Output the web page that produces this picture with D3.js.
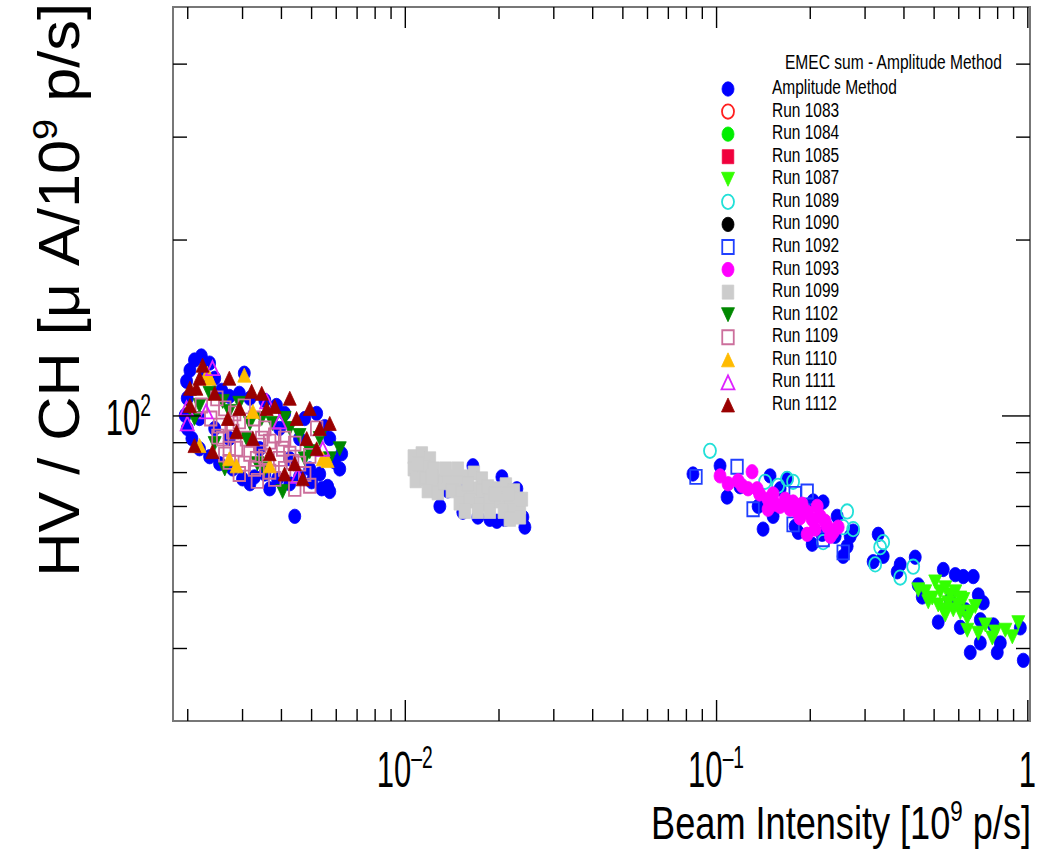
<!DOCTYPE html>
<html>
<head>
<meta charset="utf-8">
<script src="https://cdn.jsdelivr.net/npm/d3@7"></script>
<style>
    body{margin:0;background:#fff;}
    svg text{font-family:"Liberation Sans",Arial,Helvetica,sans-serif;fill:#000;}
</style>
</head>
<body>
<script>
// axis ranges and ticks
const xDomain = [0.0018, 1.02];
const yDomain = [30, 500];
const xMajor = [0.01, 0.1, 1];
const xMinor = [0.002, 0.003, 0.004, 0.005, 0.006, 0.007, 0.008, 0.009,
                0.02, 0.03, 0.04, 0.05, 0.06, 0.07, 0.08, 0.09,
                0.2, 0.3, 0.4, 0.5, 0.6, 0.7, 0.8, 0.9];
const yMajor = [100];
const yMinor = [40, 50, 60, 70, 80, 90, 200, 300, 400];

// [beam intensity (1e9 p/s), HV current per channel]
const ampMethod = [
    [0.00199,114.4],[0.00204,119.5],[0.00211,124.4],[0.00222,126.4],[0.00236,122.9],[0.00227,116.7],[0.00245,115.8],
    [0.00200,107.0],[0.00197,100.0],[0.00200,95.0],[0.00207,91.3],[0.00219,87.7],[0.00236,85.0],[0.00254,82.7],
    [0.00280,81.0],[0.00301,77.9],[0.00329,78.5],[0.00355,79.4],[0.00390,77.9],[0.00427,76.4],[0.00459,78.5],
    [0.00502,77.0],[0.00541,74.9],[0.00574,74.1],[0.00595,83.3],[0.00574,91.3],[0.00553,95.7],[0.00521,100.8],
    [0.00477,98.8],[0.00411,100.8],[0.00387,104.0],[0.00355,106.1],[0.00318,107.0],[0.00294,109.1],[0.00273,107.8],
    [0.00258,110.4],[0.00305,118.1],[0.00443,67.2],[0.00618,81.0],[0.00219,98.8],[0.00245,95.0],[0.00273,91.3],
    [0.00342,87.7],[0.00427,84.3],[0.00495,81.0],[0.00368,74.9],[0.00318,76.4],[0.00533,79.4],[0.00459,91.3],
    [0.00396,95.0],[0.00627,86.0],[0.00565,75.6],
    [0.01296,69.9],[0.01536,68.3],[0.01717,67.0],[0.01876,66.4],[0.01976,65.9],[0.02097,66.4],[0.02395,67.0],
    [0.02431,64.4],[0.01374,74.3],[0.01655,82.0],[0.02051,78.5],[0.02291,74.9],[0.01204,79.4],[0.01502,76.4],
    [0.01808,73.4],[0.02175,70.5],
    [0.0843,79.4],[0.1030,82.0],[0.1085,72.5],[0.1194,75.5],[0.1491,78.8],[0.1691,77.9],[0.2051,71.4],[0.2208,71.1],
    [0.1365,69.9],[0.1525,67.2],[0.1416,63.9],[0.1795,64.6],[0.1836,63.1],[0.2036,60.2],[0.2192,62.6],[0.2413,62.1],
    [0.2637,59.7],[0.2561,57.4],[0.2697,62.1],[0.2449,67.2],[0.2757,63.4],[0.1606,74.9],
    [0.3318,62.6],[0.3443,57.4],[0.3197,56.2],[0.3905,55.6],[0.3819,54.0],[0.4364,57.2],[0.4461,51.3],[0.5370,54.5],
    [0.5869,53.4],[0.6227,53.0],[0.6705,53.0],[0.4597,48.9],[0.5174,44.3],[0.6091,43.4],[0.6957,49.3],[0.7220,47.8],
    [0.7062,44.7],[0.7777,43.8],[0.8188,40.8],[0.8007,39.3],[0.6557,39.3],[0.7062,40.8],[0.9495,43.3],[0.9707,38.1],
    [0.565,48.4],[0.632,46.5]
];
const run1083 = [];
const run1084 = [];
const run1085 = [];
const run1087 = [
    [0.4461,50.3],[0.4806,48.0],[0.5061,51.9],[0.5252,49.9],[0.5450,50.7],[0.5869,49.9],[0.5572,47.8],[0.5783,46.5],
    [0.6091,46.0],[0.6227,48.4],[0.6414,45.0],[0.6805,47.1],[0.6957,42.4],[0.7720,41.6],[0.7892,42.6],[0.8951,41.8],
    [0.9357,44.2],[0.6414,42.9],[0.5370,46.5],[0.4699,49.9],[0.4949,48.7],[0.565,49.3],[0.600,47.4],[0.6557,46.1],
    [0.7328,43.8],[0.850,42.9],[0.5174,47.4],[0.6091,48.7],[0.545,45.6]
];
const run1089 = [
    [0.0956,87.0],[0.1437,77.0],[0.1691,77.9],[0.1768,77.0],[0.1582,75.8],[0.2637,68.5],[0.2757,63.9],[0.2561,64.4],
    [0.2208,60.7],[0.3443,60.7],[0.3367,59.5],[0.3245,55.6],[0.3905,52.8],[0.4299,55.1]
];
const run1090 = [];
const run1092 = [
    [0.0862,78.5],[0.1168,81.7],[0.1315,69.1],[0.1795,73.4],[0.1962,74.1],[0.1768,65.1],[0.2208,61.4],[0.2561,58.3],
    [0.2051,68.5]
];
const run1093 = [
    [0.1030,78.8],[0.1177,77.3],[0.1305,80.1],[0.1267,74.9],[0.1355,74.9],[0.1469,71.9],[0.1525,73.4],[0.1606,69.9],
    [0.1768,71.1],[0.1822,68.5],[0.1962,68.3],[0.2113,69.9],[0.2160,67.2],[0.2275,64.6],[0.2377,63.1],[0.1962,62.6],
    [0.1469,69.1],[0.1093,76.4],[0.1213,75.8],[0.1380,73.4],[0.1548,70.5],[0.1667,71.9],[0.1730,69.1],[0.1890,70.5],
    [0.2036,66.4],[0.2241,65.9],[0.2468,64.4],[0.2082,63.9],[0.2330,62.1],[0.1860,66.8]
];
const run1099 = [
    [0.01069,85.0],[0.01134,86.0],[0.01204,84.3],[0.01069,81.0],[0.01151,81.7],[0.01240,81.0],[0.01085,77.3],
    [0.01168,77.9],[0.01258,77.3],[0.01186,74.3],[0.01277,73.7],[0.01335,76.7],[0.01374,78.5],[0.01459,77.0],
    [0.01571,78.5],[0.01667,79.7],[0.01768,77.9],[0.01416,74.3],[0.01525,73.7],[0.01642,74.9],[0.01768,74.3],
    [0.01502,70.8],[0.01618,71.4],[0.01743,70.5],[0.01876,71.9],[0.01849,75.5],[0.01717,68.5],[0.01876,68.5],
    [0.01991,74.9],[0.02112,76.1],[0.02241,74.3],[0.02021,71.4],[0.02175,71.9],[0.02308,71.9],[0.02081,68.5],
    [0.02241,68.5],[0.02343,69.7],[0.02175,66.4],[0.02343,67.0],[0.01101,82.7],[0.01221,78.5],[0.01354,81.0],
    [0.01480,81.0],[0.01594,76.4],[0.01948,73.4],[0.02144,73.4],[0.01559,68.5],[0.02378,71.9]
];
const run1102 = [
    [0.00236,109.1],[0.00219,104.0],[0.00260,105.7],[0.00347,98.8],[0.00376,96.9],[0.00459,92.4],[0.00618,87.7],
    [0.00405,74.1],[0.00245,89.5],[0.00310,91.3],[0.00273,101.6],[0.00495,86.7],[0.00427,95.0],[0.00336,82.7],
    [0.00211,98.8],[0.00294,104.9],[0.00411,98.8],[0.00533,91.3],[0.00574,84.3],[0.00355,81.0],[0.00264,81.0],
    [0.00477,84.3],[0.00318,96.9]
];
const run1109 = [
    [0.00222,104.0],[0.00249,107.0],[0.00254,96.1],[0.00280,93.8],[0.00260,91.3],[0.00288,87.7],[0.00310,91.3],
    [0.00342,88.8],[0.00368,90.2],[0.00405,87.7],[0.00334,84.3],[0.00368,80.1],[0.00436,83.3],[0.00495,85.3],
    [0.00521,95.0],[0.00495,75.8],[0.00273,83.3],[0.00336,77.3],[0.00396,84.3],[0.00294,97.7],[0.00238,98.8],
    [0.00305,82.7],[0.00264,85.7],[0.00264,102.8],[0.00284,100.8],[0.00305,103.6],[0.00329,98.8],[0.00355,95.0],
    [0.00382,92.4],[0.00411,91.3],[0.00443,89.5],[0.00273,87.7],[0.00318,86.0],[0.00355,85.0],[0.00411,81.0],
    [0.00459,82.7],[0.00294,79.4],[0.00329,81.0],[0.00382,77.9],[0.00443,74.9],[0.00251,92.0],[0.00278,96.9],
    [0.00347,91.3],[0.00427,86.0],[0.00477,79.4]
];
const run1110 = [
    [0.00232,118.1],[0.00305,117.2],[0.00236,115.8],[0.00325,101.6],[0.00545,84.3],[0.00565,83.7],[0.00219,88.8],
    [0.00368,82.0],[0.00273,84.3],[0.00288,82.0]
];
const run1111 = [
    [0.00200,96.9],[0.00199,102.8],[0.00241,120.5],[0.00360,105.7],[0.00396,97.7],[0.00545,87.7],[0.00453,78.8],
    [0.00230,101.6]
];
const run1112 = [
    [0.00224,121.9],[0.00204,111.3],[0.00214,111.3],[0.00211,88.8],[0.00322,110.0],[0.00360,102.8],[0.00382,103.6],
    [0.00449,98.8],[0.00484,91.3],[0.00411,79.4],[0.00470,77.9],[0.00521,87.7],[0.00241,86.7],[0.00204,104.0],
    [0.00325,91.3],[0.00288,93.8],[0.00219,115.8],[0.00270,98.8],[0.00533,95.0],[0.00294,102.8],[0.00347,109.1],
    [0.00427,107.0],[0.00495,102.8],[0.00574,96.9],[0.00245,109.1],[0.00273,115.8],[0.00368,86.0],[0.00443,82.7]
];

const seriesLabels = ['Amplitude Method','Run 1083','Run 1084','Run 1085','Run 1087','Run 1089','Run 1090',
    'Run 1092','Run 1093','Run 1099','Run 1102','Run 1109','Run 1110','Run 1111','Run 1112'];
const seriesData = [ampMethod, run1083, run1084, run1085, run1087, run1089, run1090,
    run1092, run1093, run1099, run1102, run1109, run1110, run1111, run1112];

// marker style per series
const markerStyles = [
    {shape:'circle',  color:'#0000ff', open:false},
    {shape:'circle',  color:'#ff2020', open:true},
    {shape:'circle',  color:'#00ee00', open:false},
    {shape:'square',  color:'#f0003c', open:false},
    {shape:'triDown', color:'#33ff00', open:false},
    {shape:'circle',  color:'#22e0d8', open:true},
    {shape:'circle',  color:'#000000', open:false},
    {shape:'square',  color:'#2040ff', open:true},
    {shape:'circle',  color:'#ff00ff', open:false},
    {shape:'square',  color:'#cccccc', open:false},
    {shape:'triDown', color:'#008800', open:false},
    {shape:'square',  color:'#cc6f9c', open:true},
    {shape:'triUp',   color:'#ffbb00', open:false},
    {shape:'triUp',   color:'#dd22ff', open:true},
    {shape:'triUp',   color:'#990000', open:false}
];

// path for one marker centred on (cx,cy)
function markerPath(shape, cx, cy){
    if(shape==='circle'){
        const rx = 6, ry = 7.2;
        return `M${cx-rx},${cy}a${rx},${ry} 0 1,0 ${2*rx},0a${rx},${ry} 0 1,0 ${-2*rx},0Z`;
    }
    if(shape==='square'){
        const w = 11.5, h = 14;
        return `M${cx-w/2},${cy-h/2}h${w}v${h}h${-w}Z`;
    }
    const w = 13, h = 14, s = shape==='triUp' ? 1 : -1;
    return `M${cx},${cy-s*h/2}L${cx+w/2},${cy+s*h/2}L${cx-w/2},${cy+s*h/2}Z`;
}

function styleMarker(sel, st){
    sel.attr('fill', st.open ? 'none' : st.color)
        .attr('stroke', st.color)
        .attr('stroke-width', st.open ? 1.8 : 0.8);
}

// squeeze text along its own baseline to the given width, returns factor
function fitWidth(sel, width){
    const w = sel.node().getBBox().width;
    const k = width / w;
    squeeze(sel, k);
    return k;
}
function squeeze(sel, k){
    sel.attr('transform', (sel.attr('transform') || '') + ` scale(${k},1)`);
}

// "10^n" label, or "1"
function powerLabel(sel, v){
    const e = Math.round(Math.log10(v));
    if(e === 0){ sel.text('1'); return; }
    sel.append('tspan').text('10');
    sel.append('tspan').attr('font-size', '0.62em').attr('dy', '-0.62em').text(e < 0 ? '\u2013' + (-e) : e);
}

class LogScatter{
    svg; frame; x; y;

    constructor(container='body', width=1039, height=853, frame={left:173, right:1030, top:7, bottom:721}){
        this.frame = frame;
        this.svg = d3.select(container).append('svg')
            .attr('width', width).attr('height', height);
        this.x = d3.scaleLog().domain(xDomain).range([frame.left, frame.right]);
        this.y = d3.scaleLog().domain(yDomain).range([frame.bottom, frame.top]);
    }

    #drawFrame(){
        const f = this.frame;
        this.svg.append('rect')
            .attr('x', f.left).attr('y', f.top)
            .attr('width', f.right - f.left).attr('height', f.bottom - f.top)
            .attr('fill', 'none').attr('stroke', '#777').attr('stroke-width', 2);
    }

    #drawPoints(){
        seriesData.forEach((pts, i) => {
            const st = markerStyles[i];
            this.svg.append('g').classed('series', true)
                .selectAll('path').data(pts).join('path')
                .attr('d', d => markerPath(st.shape, this.x(d[0]), this.y(d[1])))
                .call(styleMarker, st);
        });
    }

    #drawAxes(){
        const f = this.frame;
        // ticks point inward on all four sides
        const ax = [
            [d3.axisBottom, `translate(0,${f.bottom})`, this.x, xMinor, 12],
            [d3.axisBottom, `translate(0,${f.bottom})`, this.x, xMajor, 21],
            [d3.axisTop, `translate(0,${f.top})`, this.x, xMinor, 12],
            [d3.axisTop, `translate(0,${f.top})`, this.x, xMajor, 21],
            [d3.axisLeft, `translate(${f.left},0)`, this.y, yMinor, 14],
            [d3.axisLeft, `translate(${f.left},0)`, this.y, yMajor, 28],
            [d3.axisRight, `translate(${f.right},0)`, this.y, yMinor, 14],
            [d3.axisRight, `translate(${f.right},0)`, this.y, yMajor, 28]
        ];
        ax.forEach(([axis, tr, scale, vals, len]) => {
            this.svg.append('g').attr('transform', tr)
                .call(axis(scale).tickValues(vals).tickSize(-len).tickFormat(''))
                .call(g => g.select('.domain').remove())
                .selectAll('line').attr('stroke', '#000').attr('stroke-width', 1.4);
        });

        // decade labels
        let k = null;
        xMajor.forEach(v => {
            const t = this.svg.append('text')
                .attr('transform', `translate(${this.x(v)},787)`)
                .attr('text-anchor', 'middle').attr('font-size', 50);
            powerLabel(t, v);
            if(k === null) k = fitWidth(t, 56);
            else squeeze(t, k);
        });
        yMajor.forEach(v => {
            const t = this.svg.append('text')
                .attr('transform', `translate(151,${this.y(v) + 20})`)
                .attr('text-anchor', 'end').attr('font-size', 50);
            powerLabel(t, v);
            squeeze(t, k);
        });

        // axis titles
        const xt = this.svg.append('text')
            .attr('transform', 'translate(1031,839)')
            .attr('text-anchor', 'end').attr('font-size', 47);
        xt.append('tspan').text('Beam Intensity [10');
        xt.append('tspan').attr('font-size', '0.62em').attr('dy', '-0.62em').text('9');
        xt.append('tspan').attr('dy', '0.385em').text(' p/s]');
        fitWidth(xt, 380);

        const yt = this.svg.append('text')
            .attr('transform', 'translate(79,3) rotate(-90)')
            .attr('text-anchor', 'end').attr('font-size', 57);
        yt.append('tspan').text('HV / CH [\u03bc A/10');
        yt.append('tspan').attr('font-size', '0.62em').attr('dy', '-0.62em').text('9');
        yt.append('tspan').attr('dy', '0.385em').text(' p/s]');
        fitWidth(yt, 574);
    }

    #drawLegend(){
        const top = 87, step = 22.57, mx = 728, tx = 772;
        const title = this.svg.append('text')
            .attr('transform', 'translate(785,69)')
            .attr('font-size', 21).text('EMEC sum - Amplitude Method');
        fitWidth(title, 217);

        const rows = this.svg.append('g').classed('legend', true)
            .selectAll('g').data(seriesLabels).join('g')
            .attr('transform', (d, i) => `translate(0,${top + i*step})`);
        rows.append('path')
            .attr('d', (d, i) => markerPath(markerStyles[i].shape, mx, 2))
            .each(function(d, i){ d3.select(this).call(styleMarker, markerStyles[i]); });
        let k = null;
        rows.append('text')
            .attr('font-size', 21).attr('dy', 7)
            .attr('transform', `translate(${tx},0)`)
            .text(d => d)
            .each(function(d, i){
                const t = d3.select(this);
                if(i === 0) k = fitWidth(t, 125);
                else squeeze(t, k);
            });
    }

    render(){
        this.#drawFrame();
        this.#drawPoints();
        this.#drawAxes();
        this.#drawLegend();
        return this;
    }
}

new LogScatter().render();
</script>
</body>
</html>
